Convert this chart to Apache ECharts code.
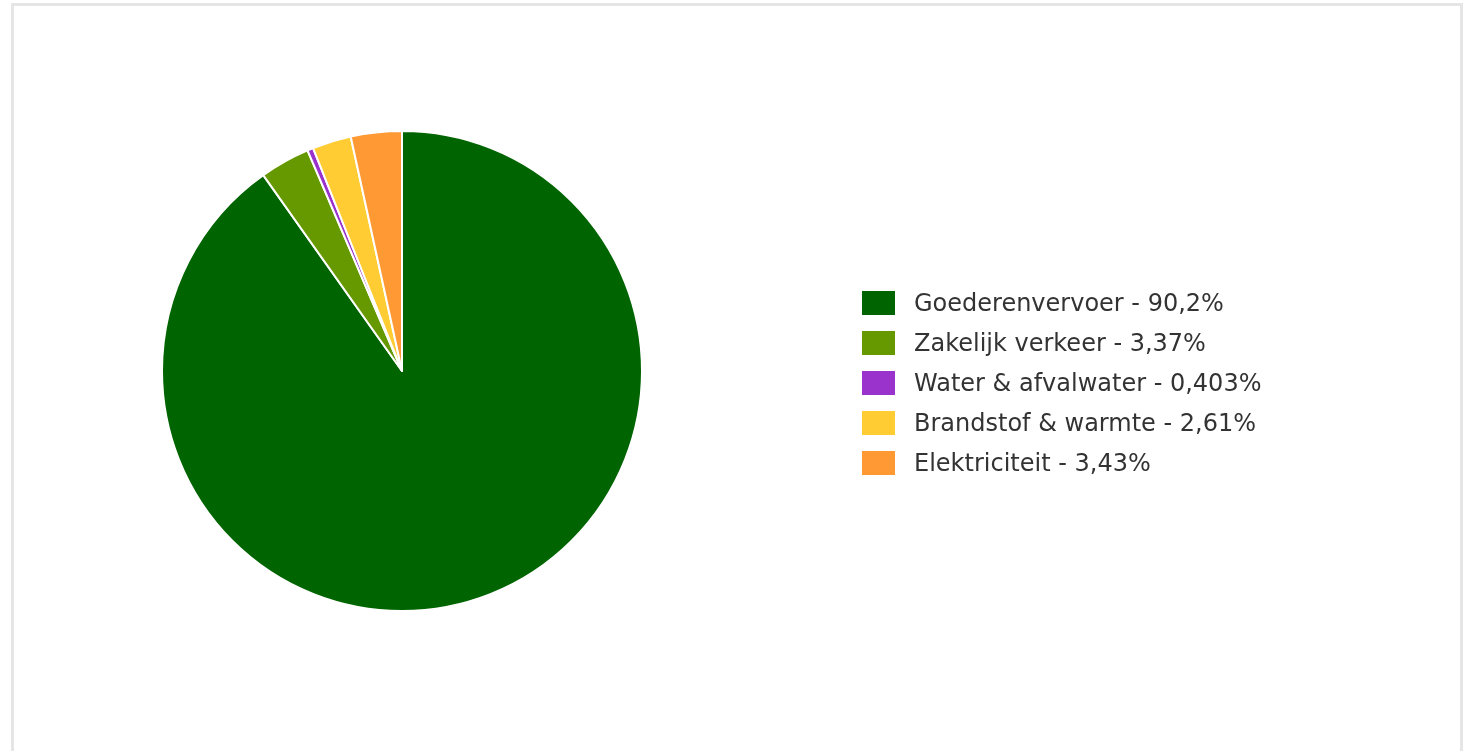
<!DOCTYPE html>
<html>
<head>
<meta charset="utf-8">
<script src="https://cdn.jsdelivr.net/npm/echarts@6/dist/echarts.min.js"></script>
<style>
  html, body { margin: 0; padding: 0; background: #fff; overflow: hidden; }
  #frame {
    position: absolute; left: 11px; top: 3px; width: 1446px; height: 800px;
    border: 3px solid #e5e5e5; box-sizing: content-box;
  }
  #chart { position: absolute; left: 0; top: 0; width: 1469px; height: 751px; }
</style>
</head>
<body>
<div id="frame"></div>
<div id="chart"></div>
<script>
// categories and their share (%)
const categories = ['Goederenvervoer', 'Zakelijk verkeer', 'Water & afvalwater', 'Brandstof & warmte', 'Elektriciteit'];
const shares = [90.2, 3.37, 0.403, 2.61, 3.43];
const colors = ['#006400', '#669900', '#9933cc', '#ffcc33', '#ff9933'];

const fmt = (v) => String(v).replace('.', ',') + '%';

const chart = echarts.init(document.getElementById('chart'), null, { renderer: 'canvas' });

chart.setOption({
    backgroundColor: 'transparent',
    animation: false,
    textStyle: { fontFamily: 'DejaVu Sans' },
    color: colors,
    legend: {
        orient: 'vertical',
        left: 862,
        top: 289,
        padding: 0,
        itemWidth: 33,
        itemHeight: 24,
        itemGap: 12,
        icon: 'rect',
        itemStyle: { borderWidth: 0 },
        textStyle: {
            color: '#333', fontSize: 24, lineHeight: 24,
            fontFamily: 'DejaVu Sans',
            rich: {
                t: {
                    color: '#333', fontSize: 24, lineHeight: 24,
                    fontFamily: 'DejaVu Sans', padding: [4, 0, 0, 14]
                }
            }
        },
        formatter: (name) => '{t|' + name + ' - ' + fmt(shares[categories.indexOf(name)]) + '}',
        data: categories
    },
    series: [{
        type: 'pie',
        center: [402, 371],
        radius: 240,
        startAngle: 90,
        clockwise: true,
        label: { show: false },
        labelLine: { show: false },
        itemStyle: { borderColor: '#fff', borderWidth: 2 },
        emphasis: { disabled: true },
        data: categories.map((c, i) => ({ name: c, value: shares[i] }))
    }]
});
</script>
</body>
</html>
